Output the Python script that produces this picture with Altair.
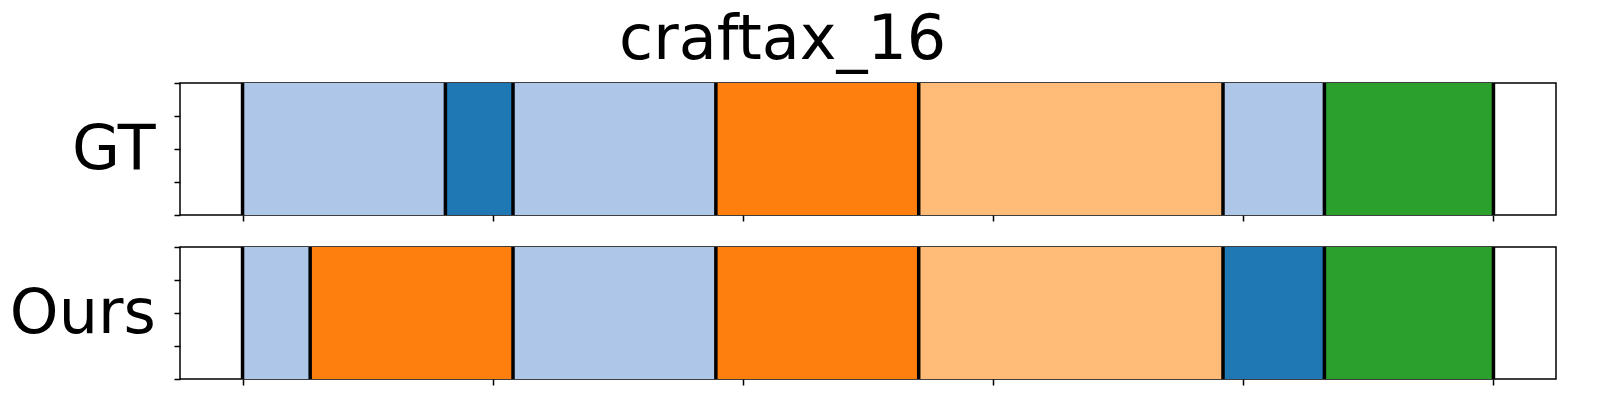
import altair as alt
import pandas as pd

rows = ["GT", "Ours"]
gt_units = [6, 2, 6, 6, 9, 3, 5]
gt_labels = ["a", "b", "a", "c", "d", "a", "e"]
ours_units = [2, 6, 6, 6, 9, 3, 5]
ours_labels = ["a", "c", "a", "c", "d", "b", "e"]
label_domain = ["a", "b", "c", "d", "e"]
label_colors = ["#aec7e8", "#1f77b4", "#ff7f0e", "#ffbb78", "#2ca02c"]


def segments(units, labels):
    total = sum(units)
    recs, start = [], 0
    for u, l in zip(units, labels):
        recs.append({"start": start / total, "end": (start + u) / total, "label": l})
        start += u
    return pd.DataFrame(recs)


def panel(name, units, labels):
    df = segments(units, labels)
    bounds = pd.DataFrame({"b": sorted(set(df["start"]) | set(df["end"]))})
    xs = alt.Scale(domain=[-0.05, 1.05], nice=False, zero=False)
    xa = alt.Axis(values=[0, 0.2, 0.4, 0.6, 0.8, 1.0], labels=False, grid=False,
                  title=None, tickSize=6, tickColor="black", tickWidth=1.5, domain=False)
    rect = alt.Chart(df).mark_rect().encode(
        x=alt.X("start:Q", scale=xs, axis=xa),
        x2="end:Q",
        y=alt.value(0),
        y2=alt.value(132),
        color=alt.Color("label:N", scale=alt.Scale(domain=label_domain, range=label_colors),
                        legend=None),
    )
    ys = alt.Scale(domain=[0, 1])
    ya = alt.Axis(values=[0, 0.25, 0.5, 0.75, 1.0], labels=False, grid=False,
                  title=name, titleAngle=0, titleFontSize=62, titleFontWeight="normal",
                  titleFont="DejaVu Sans", titleAlign="right", titleBaseline="middle",
                  titleY=66, titlePadding=18, tickSize=6, tickColor="black",
                  tickWidth=1.5, domain=False)
    rules = alt.Chart(bounds).mark_rule(color="black", strokeWidth=3.5).encode(
        x=alt.X("b:Q", scale=xs, axis=xa),
    )
    axis_holder = alt.Chart(pd.DataFrame({"v": [0, 1]})).mark_point(opacity=0).encode(
        y=alt.Y("v:Q", scale=ys, axis=ya)
    )
    return alt.layer(rect, rules, axis_holder).properties(width=1376, height=132)


chart = alt.vconcat(
    panel(rows[0], gt_units, gt_labels),
    panel(rows[1], ours_units, ours_labels),
    spacing=20,
).properties(
    title=alt.Title("craftax_16", fontSize=62, fontWeight="normal", font="DejaVu Sans",
                    anchor="middle", offset=8),
    padding={"left": 0, "top": 0, "right": 5, "bottom": 0},
).configure_view(stroke="black", strokeWidth=1.5)

chart.save("out.html", embed_options={"renderer": "svg", "actions": False})
